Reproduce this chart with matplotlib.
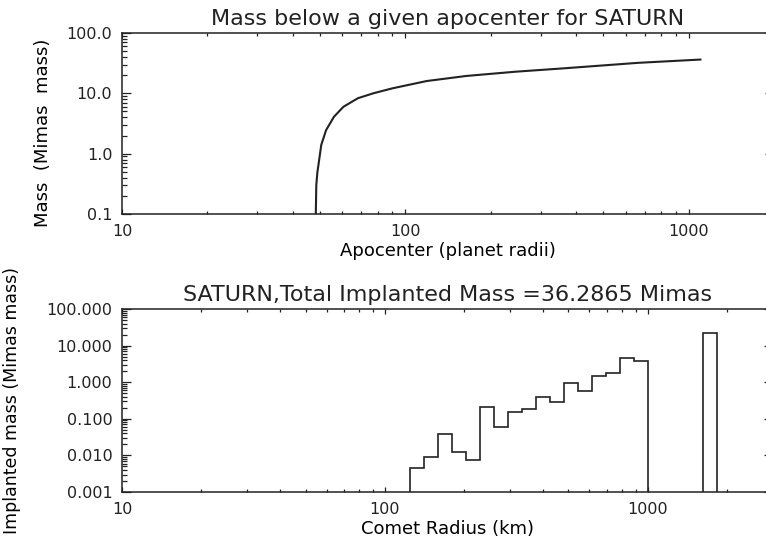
import numpy as np
import matplotlib.pyplot as plt
from matplotlib.ticker import FixedLocator, LogLocator, NullFormatter, FixedFormatter

# cumulative mass below a given apocenter (top panel)
apocenter = [48.3, 48.5, 48.9, 50.5, 52.5, 56, 60.5, 68, 77, 90, 119, 164, 244, 364, 661, 1100]
mass_below = [0.1, 0.3, 0.48, 1.4, 2.45, 4.1, 6.0, 8.3, 10.0, 12.1, 16.0, 19.4, 22.8, 26.0, 32.0, 36.3]

# implanted mass per comet radius bin (bottom panel)
radius_edges = [125, 141, 160, 180, 204, 231, 261, 295, 333, 377, 426, 482, 545, 616, 696, 787, 889, 1000]
implanted = [0.0044, 0.0093, 0.039, 0.0127, 0.0077, 0.21, 0.061, 0.156, 0.188, 0.40, 0.29,
             0.96, 0.58, 1.49, 1.80, 4.6, 3.8]
big_edges = [1630, 1840]
big_mass = [22.0]

x_ticks = [10, 100, 1000]
x_labels = ['10', '100', '1000']
top_yticks = [0.1, 1, 10, 100]
bot_yticks = [0.001, 0.01, 0.1, 1, 10, 100]

ink = '#222222'
plt.rcParams['font.family'] = 'DejaVu Sans'
plt.rcParams['text.color'] = ink
plt.rcParams['axes.edgecolor'] = ink
plt.rcParams['xtick.color'] = ink
plt.rcParams['ytick.color'] = ink

fig = plt.figure(figsize=(7.66, 5.45), dpi=100)
W, H = 766.0, 545.0
ax1 = fig.add_axes([122 / W, 1 - 214 / H, 652 / W, 181 / H])
ax2 = fig.add_axes([122 / W, 1 - 492 / H, 651 / W, 183 / H])


def style(ax, yticks, fmt):
    ax.set_xscale('log')
    ax.set_yscale('log')
    for s in ax.spines.values():
        s.set_linewidth(1.1)
    ax.xaxis.set_major_locator(FixedLocator(x_ticks))
    ax.xaxis.set_major_formatter(FixedFormatter(x_labels))
    ax.xaxis.set_minor_locator(LogLocator(base=10, subs=np.arange(2, 10)))
    ax.xaxis.set_minor_formatter(NullFormatter())
    ax.yaxis.set_major_locator(FixedLocator(yticks))
    ax.yaxis.set_major_formatter(FixedFormatter([fmt % v for v in yticks]))
    ax.yaxis.set_minor_locator(LogLocator(base=10, subs=np.arange(2, 10)))
    ax.yaxis.set_minor_formatter(NullFormatter())
    ax.tick_params(which='both', direction='in', top=True, right=True, labelsize=11.5, width=0.9)
    ax.tick_params(axis='x', which='major', length=3.5, pad=7)
    ax.tick_params(axis='x', which='minor', length=2)
    ax.tick_params(axis='y', which='major', length=6.5, pad=7)
    ax.tick_params(axis='y', which='minor', length=3.6)


# top panel
style(ax1, top_yticks, '%.1f')
ax1.plot(apocenter, mass_below, color=ink, lw=1.5)
ax1.set_xlim(10, 2000)
ax1.set_ylim(0.1, 100)
ax1.set_title('Mass below a given apocenter for SATURN', fontsize=16, pad=6)
ax1.set_xlabel('Apocenter (planet radii)', fontsize=13, labelpad=2)
ax1.set_ylabel('Mass  (Mimas  mass)', fontsize=13)
ax1.yaxis.set_label_coords(-0.107, 0.45)

# bottom panel
style(ax2, bot_yticks, '%.3f')
ax2.stairs(implanted, radius_edges, baseline=0.001, color=ink, lw=1.2)
ax2.stairs(big_mass, big_edges, baseline=0.001, color=ink, lw=1.2)
ax2.set_xlim(10, 3000)
ax2.set_ylim(0.001, 100)
ax2.set_title('SATURN,Total Implanted Mass =36.2865 Mimas', fontsize=16, pad=6)
ax2.set_xlabel('Comet Radius (km)', fontsize=13, labelpad=2)
ax2.set_ylabel('Implanted mass (Mimas mass)', fontsize=12.5)
ax2.yaxis.set_label_coords(-0.155, 0.5)

plt.savefig('out.png', dpi=100)
